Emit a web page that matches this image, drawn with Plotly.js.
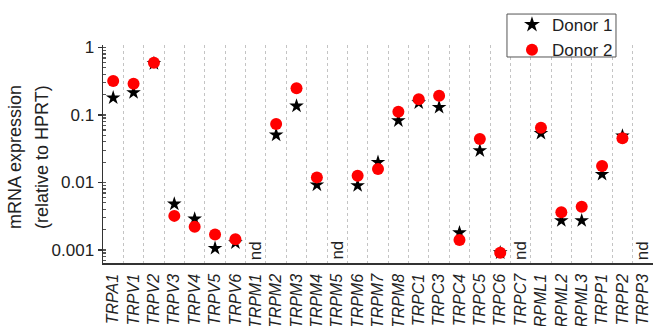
<!DOCTYPE html>
<html>
<head>
<meta charset="utf-8">
<script src="https://cdn.plot.ly/plotly-3.0.1.min.js"></script>
<style>html,body{margin:0;padding:0;background:#fff;}#chart{width:653px;height:326px;}</style>
</head>
<body>
<div id="chart"></div>
<script>
const categories = ["TRPA1","TRPV1","TRPV2","TRPV3","TRPV4","TRPV5","TRPV6","TRPM1","TRPM2","TRPM3","TRPM4","TRPM5","TRPM6","TRPM7","TRPM8","TRPC1","TRPC3","TRPC4","TRPC5","TRPC6","TRPC7","TRPML1","TRPML2","TRPML3","TRPP1","TRPP2","TRPP3"];
const donor1 = [0.180,0.215,0.58,0.0048,0.00288,0.00106,0.00128,null,0.0506,0.136,0.0092,null,0.0090,0.0199,0.0824,0.152,0.130,0.0018,0.0296,0.00091,null,0.0536,0.00272,0.00272,0.0132,0.0489,null];
const donor2 = [0.32,0.29,0.595,0.0032,0.00221,0.00169,0.00144,null,0.0735,0.249,0.0119,null,0.0126,0.0158,0.112,0.171,0.193,0.00141,0.044,0.00091,null,0.0649,0.00362,0.00438,0.0176,0.0452,null];
const yTickVals = [0.001,0.01,0.1,1];
const yTickText = ["0.001","0.01","0.1","1"];
const ndLabel = "nd";

const idx = categories.map((c,i)=>i);
const bounds = categories.slice(1).map((c,i)=>i+0.5);
const FONT = 'Liberation Sans, Arial, sans-serif';

const traces = [
  {x: idx, y: donor1, type:'scatter', mode:'markers', name:'Donor 1',
   marker:{symbol:'star', size:11, color:'#000000'}},
  {x: idx, y: donor2, type:'scatter', mode:'markers', name:'Donor 2',
   marker:{symbol:'circle', size:12, color:'#ff0000'}}
];

const annotations = [];
categories.forEach((c,i)=>{
  if (donor1[i]===null && donor2[i]===null) {
    annotations.push({x:i, xref:'x', y:0.058, yref:'paper', text:ndLabel, showarrow:false,
      textangle:-90, xanchor:'center', yanchor:'middle', font:{family:FONT, size:17, color:'#222'}});
  }
});
annotations.push({x:-0.16, xref:'paper', y:0.486, yref:'paper', text:'mRNA expression', showarrow:false, textangle:-90,
  xanchor:'center', yanchor:'middle', font:{family:FONT, size:18, color:'#222'}});
annotations.push({x:-0.111, xref:'paper', y:0.486, yref:'paper', text:'(relative to HPRT)', showarrow:false, textangle:-90,
  xanchor:'center', yanchor:'middle', font:{family:FONT, size:18, color:'#222'}});

const shapes = [
  {type:'rect', xref:'paper', yref:'paper', x0:0.7345, x1:0.9327, y0:0.945, y1:1.142,
   line:{color:'#555', width:1}, fillcolor:'#ffffff', layer:'above'}
];

const layout = {
  width:653, height:326,
  margin:{l:103, r:0, t:45, b:63},
  paper_bgcolor:'#ffffff', plot_bgcolor:'#ffffff',
  font:{family:FONT, size:17, color:'#222'},
  showlegend:true,
  legend:{x:0.7436, xanchor:'left', y:1.174, yanchor:'top', bgcolor:'rgba(0,0,0,0)', borderwidth:0,
    font:{size:17, color:'#222'}, tracegroupgap:0, itemsizing:'constant'},
  xaxis:{type:'linear', range:[-0.5, categories.length-0.5], tickmode:'array', tickvals:idx, ticktext:categories,
    tickangle:-90, tickfont:{family:FONT, size:16, style:'italic', color:'#222'}, ticklabelstandoff:3,
    showgrid:false, zeroline:false, showline:true, linecolor:'#333', linewidth:1.5, ticks:'',
    minor:{tickvals:bounds, showgrid:true, gridcolor:'#c4c4c4', griddash:'dot', gridwidth:1, ticks:''},
    fixedrange:true},
  yaxis:{type:'log', range:[-3.193, 0.037], tickmode:'array', tickvals:yTickVals, ticktext:yTickText,
    ticks:'outside', ticklen:4, tickcolor:'#333', tickwidth:1.2, showgrid:false, zeroline:false,
    showline:true, linecolor:'#333', linewidth:1.5, tickfont:{size:17, color:'#222'},
    minor:{ticks:'inside', ticklen:3, tickcolor:'#555', dtick:'D1', showgrid:false},
    fixedrange:true},
  shapes:shapes,
  annotations:annotations
};

Plotly.newPlot('chart', traces, layout, {displayModeBar:false, staticPlot:true});
</script>
</body>
</html>
